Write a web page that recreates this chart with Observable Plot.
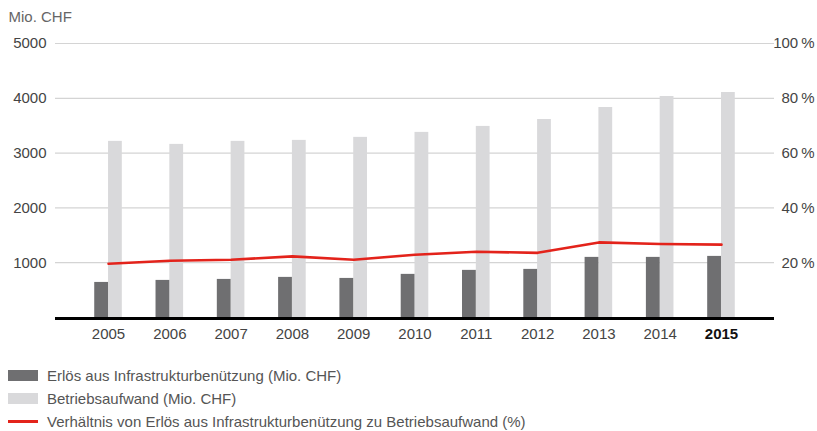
<!DOCTYPE html>
<html>
<head>
<meta charset="utf-8">
<script src="https://cdn.jsdelivr.net/npm/d3@7"></script>
<script src="https://cdn.jsdelivr.net/npm/@observablehq/plot@0.6"></script>
<style>
  body { margin: 0; background: #fff; font-family: "Liberation Sans", Arial, sans-serif; }
  #chart svg { display: block; }
  .legend { margin-top: 14px; font-size: 15px; color: #555; }
  .legend .row { display: flex; align-items: center; height: 23px; }
  .legend .sw { width: 30px; margin-left: 8px; margin-right: 9px; }
</style>
</head>
<body>
<div id="chart"></div>
<div class="legend">
  <div class="row"><span class="sw" style="height:11px;background:#6f6f71"></span>Erlös aus Infrastrukturbenützung (Mio. CHF)</div>
  <div class="row"><span class="sw" style="height:11px;background:#d9d9db"></span>Betriebsaufwand (Mio. CHF)</div>
  <div class="row"><span class="sw" style="height:3px;background:#e3231b"></span>Verhältnis von Erlös aus Infrastrukturbenützung zu Betriebsaufwand (%)</div>
</div>
<script>
const years = [2005, 2006, 2007, 2008, 2009, 2010, 2011, 2012, 2013, 2014, 2015];
const erloes = [640, 677, 695, 732, 713, 787, 860, 878, 1097, 1097, 1115];
const aufwand = [3214, 3159, 3214, 3232, 3287, 3378, 3487, 3613, 3832, 4033, 4106];
const ratio = [19.6, 20.7, 21.1, 22.3, 21.1, 22.9, 24.0, 23.6, 27.4, 26.8, 26.6];
const leftTicks = [1000, 2000, 3000, 4000, 5000];
const rightTicks = [20, 40, 60, 80, 100];

const data = years.map((y, i) => ({year: String(y), erloes: erloes[i], aufwand: aufwand[i], ratio: ratio[i]}));
const k = 5000 / 100; // percent axis maps 0–100 % onto 0–5000

const chart = Plot.plot({
  width: 817,
  height: 350,
  marginLeft: 55,
  marginRight: 43,
  marginTop: 43,
  marginBottom: 33,
  style: {fontFamily: "Liberation Sans, Arial, sans-serif", fontSize: "15px", color: "#444"},
  x: {domain: years.map(String), paddingInner: 0.55, paddingOuter: 0.64, round: false, label: null},
  y: {domain: [0, 5000], label: null},
  marks: [
    Plot.gridY(leftTicks, {stroke: "#d4d4d4", strokeOpacity: 1, strokeWidth: 1.2}),
    Plot.barY(data, {x: "year", y: "aufwand", fill: "#d9d9db", insetLeft: 13.8}),
    Plot.barY(data, {x: "year", y: "erloes", fill: "#6f6f71", insetRight: 13.8}),
    Plot.lineY(data, {x: "year", y: d => d.ratio * k, stroke: "#e3231b", strokeWidth: 2.6}),
    Plot.ruleY([0], {stroke: "#000", strokeWidth: 3, dy: 1}),
    Plot.axisY(leftTicks, {anchor: "left", tickSize: 0, tickPadding: 9, fill: "#444", fontSize: 15, tickFormat: d => String(d), label: null}),
    Plot.axisY(rightTicks.map(d => d * k), {anchor: "right", tickSize: 0, tickPadding: 40, textAnchor: "end", fontSize: 15,
      tickFormat: d => (d / k) + "\u2009%", fill: "#444", label: null}),
    Plot.axisX(years.slice(0, -1).map(String), {tickSize: 0, tickPadding: 11, fill: "#444", fontSize: 15, label: null}),
    Plot.axisX(["2015"], {tickSize: 0, tickPadding: 11, fill: "#111", fontWeight: "bold", fontSize: 15, label: null}),
    Plot.text(["Mio. CHF"], {frameAnchor: "top-left", dx: -47, dy: -26, textAnchor: "start", lineAnchor: "middle", fill: "#666", fontSize: 15})
  ]
});
document.getElementById("chart").append(chart);
</script>
</body>
</html>
